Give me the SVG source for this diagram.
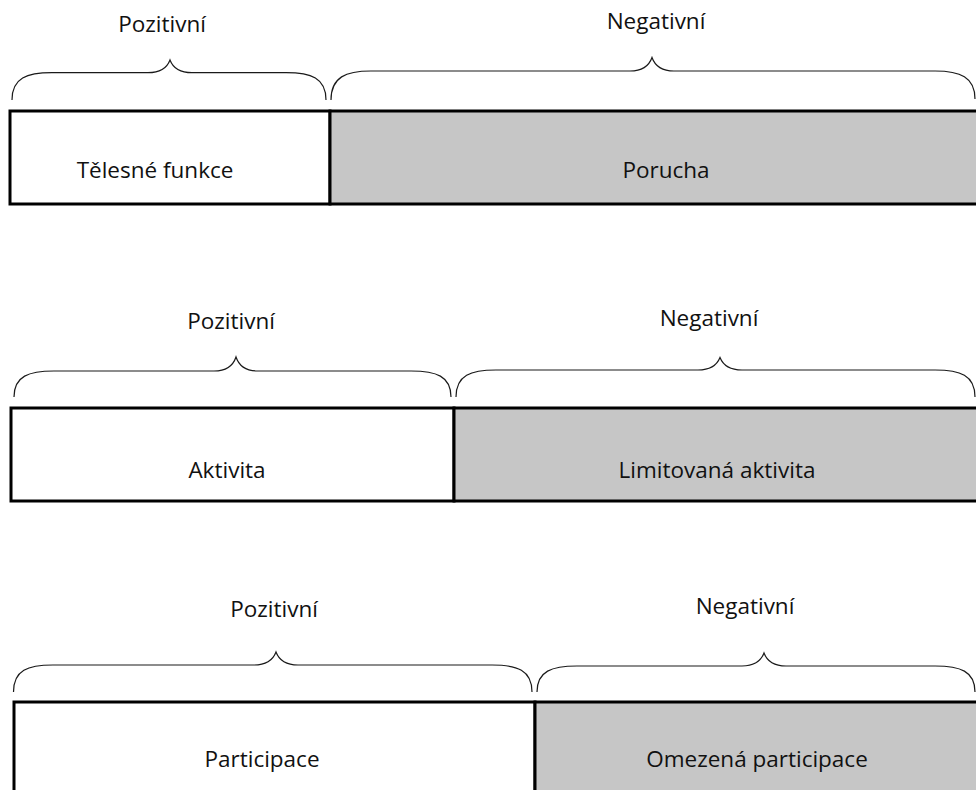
<svg xmlns="http://www.w3.org/2000/svg" width="976" height="790" viewBox="0 0 976 790">
<style>
.bg{fill:#ffffff}
.pos{fill:#ffffff;stroke:#000;stroke-width:3}
.neg{fill:#c6c6c6;stroke:#000;stroke-width:3}
.brace{fill:none;stroke:#1a1a1a;stroke-width:1.2}
text{font-family:"Open Sans","Liberation Sans",sans-serif;font-size:22.5px;fill:#111;text-anchor:middle}
</style>
<rect class="bg" x="0" y="0" width="976" height="790"/>
<g id="row1">
  <g id="telesne-funkce">
    <rect class="pos" x="10" y="111" width="320" height="93"/>
    <text x="155" y="178">Tělesné funkce</text>
  </g>
  <g id="porucha">
    <rect class="neg" x="330" y="111" width="660" height="93"/>
    <text x="666" y="178">Porucha</text>
  </g>
  <g id="brace1-pos">
    <path class="brace" d="M12,100 C12,78 27,72.7 52,72.7 L148,72.7 C160,72.7 167,68 170,60 C173,68 180,72.7 192,72.7 L286,72.7 C311,72.7 326,78 326,100"/>
    <text x="162" y="32">Pozitivní</text>
  </g>
  <g id="brace1-neg">
    <path class="brace" d="M331,100 C331,77 346,71 371,71 L630,71 C642,71 649,66 652,57.5 C655,66 662,71 674,71 L935,71 C960,71 975,77 975,99"/>
    <text x="656" y="29">Negativní</text>
  </g>
</g>
<g id="row2">
  <g id="aktivita">
    <rect class="pos" x="11" y="408" width="443" height="93"/>
    <text x="227" y="478">Aktivita</text>
  </g>
  <g id="limitovana-aktivita">
    <rect class="neg" x="454" y="408" width="540" height="93"/>
    <text x="717" y="478">Limitovaná aktivita</text>
  </g>
  <g id="brace2-pos">
    <path class="brace" d="M14,397 C14,376 29,371 54,371 L214,371 C226,371 233,366 236,357 C239,366 246,371 258,371 L411,371 C436,371 451,376 451,397"/>
    <text x="231" y="329">Pozitivní</text>
  </g>
  <g id="brace2-neg">
    <path class="brace" d="M456,397 C456,375 471,370 496,370 L698,370 C710,370 717,365 720,357.5 C723,365 730,370 742,370 L935,370 C960,370 975,375 975,397"/>
    <text x="709" y="326">Negativní</text>
  </g>
</g>
<g id="row3">
  <g id="participace">
    <rect class="pos" x="14" y="702" width="521" height="93"/>
    <text x="262" y="767">Participace</text>
  </g>
  <g id="omezena-participace">
    <rect class="neg" x="535" y="702" width="460" height="93"/>
    <text x="757" y="767">Omezená participace</text>
  </g>
  <g id="brace3-pos">
    <path class="brace" d="M13.5,692 C13.5,670 28,665 53,665 L254,665 C266,665 273,660 276,652 C279,660 286,665 298,665 L492,665 C517,665 532,670 532,692"/>
    <text x="274" y="617">Pozitivní</text>
  </g>
  <g id="brace3-neg">
    <path class="brace" d="M537,692 C537,671 552,666 577,666 L742,666 C754,666 761,661 764,653 C767,661 774,666 786,666 L935,666 C960,666 975,671 975,692"/>
    <text x="745" y="614">Negativní</text>
  </g>
</g>
<g id="connectors"/>
</svg>
